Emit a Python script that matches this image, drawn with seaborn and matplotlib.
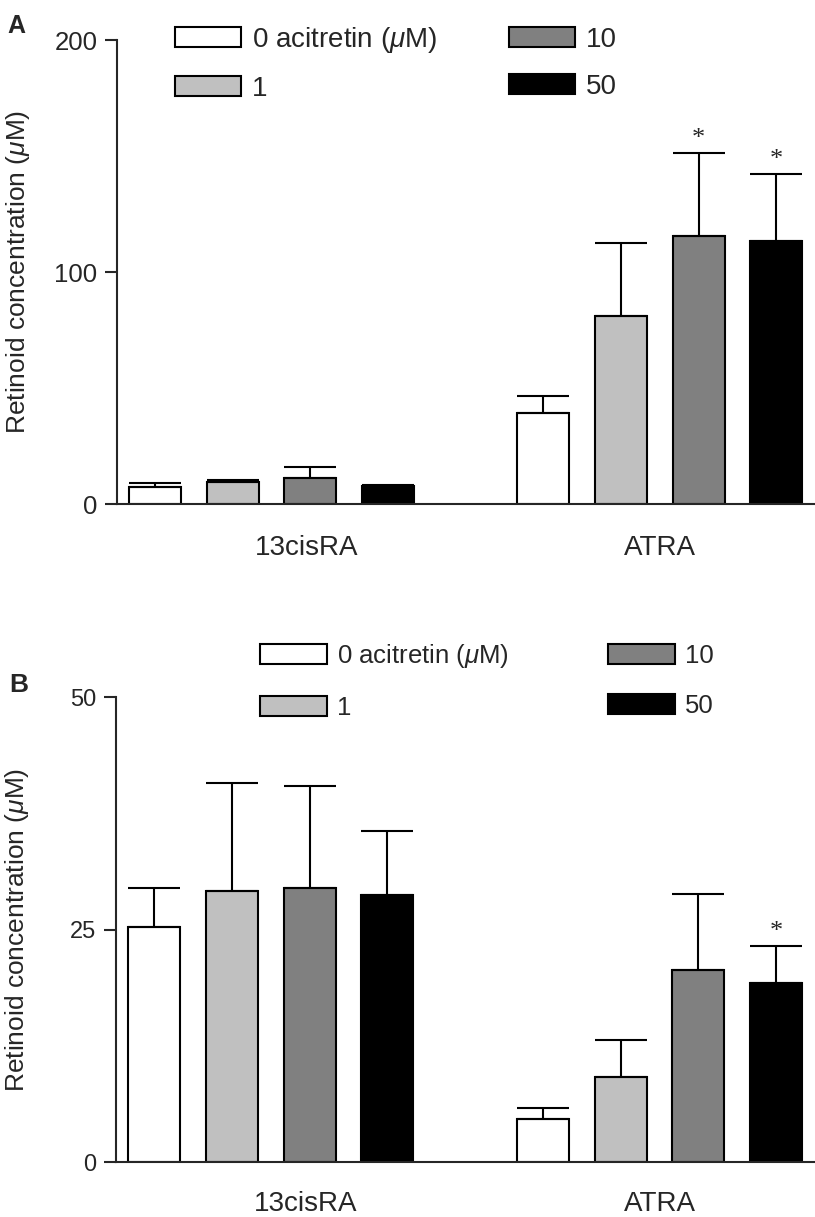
import numpy as np
import pandas as pd
import matplotlib
matplotlib.use('Agg')
import matplotlib.pyplot as plt
import seaborn as sns

# --- data ---
retinoids = ['13cisRA', 'ATRA']
doses = ['0', '1', '10', '50']
dose_labels = ['0 acitretin ($\\mu$M)', '1', '10', '50']
bar_colors = ['#ffffff', '#c0c0c0', '#808080', '#000000']

# panel A: mean and upper error (SD) per dose, order 13cisRA, ATRA
a_mean = {'0': [7.5, 39.2], '1': [9.5, 81.2], '10': [11.3, 115.6], '50': [7.6, 113.5]}
a_err = {'0': [1.4, 7.2], '1': [0.7, 31.2], '10': [4.5, 35.8], '50': [0.6, 28.9]}
a_star = {'10': [False, True], '50': [False, True]}

# panel B
b_mean = {'0': [25.3, 4.7], '1': [29.2, 9.2], '10': [29.5, 20.7], '50': [28.7, 19.3]}
b_err = {'0': [4.2, 1.1], '1': [11.6, 4.0], '10': [11.0, 8.1], '50': [6.9, 4.0]}
b_star = {'50': [False, True]}

sns.set_style('ticks')
plt.rcParams['font.family'] = ['Liberation Sans', 'DejaVu Sans']
plt.rcParams['mathtext.fontset'] = 'custom'
plt.rcParams['mathtext.it'] = 'Liberation Sans:italic'
plt.rcParams['mathtext.rm'] = 'Liberation Sans'

fig = plt.figure(figsize=(8.15, 12.17), dpi=100)


def to_frame(means):
    rows = []
    for d in doses:
        for r, v in zip(retinoids, means[d]):
            rows.append({'retinoid': r, 'dose': d, 'value': v})
    return pd.DataFrame(rows)


def draw_panel(ax, means, errs, stars, ymax, yticks, sizes):
    df = to_frame(means)
    sns.barplot(data=df, x='retinoid', y='value', hue='dose', order=retinoids,
                hue_order=doses, palette=bar_colors, errorbar=None, gap=0.33,
                edgecolor='black', linewidth=1.5, saturation=1, ax=ax)
    # upper error bars + stars on top of each bar
    for d, cont in zip(doses, ax.containers):
        for j, bar in enumerate(cont):
            x = bar.get_x() + bar.get_width() / 2
            top = bar.get_height()
            e = errs[d][j]
            ax.errorbar(x, top, yerr=[[0], [e]], fmt='none', ecolor='black',
                        elinewidth=1.5, capsize=19, capthick=1.5, zorder=1)
            if d in stars and stars[d][j]:
                ax.annotate('*', xy=(x, top + e), xytext=(0, 2),
                            textcoords='offset points', ha='center', va='bottom',
                            fontsize=19, family='Liberation Serif')
    ax.set_xlim(-0.398, 1.40)
    ax.set_ylim(0, ymax)
    ax.set_yticks(yticks)
    ax.set_yticklabels([str(t) for t in yticks], fontsize=sizes['tick'])
    # the first category label sits a little right of its bar group
    ax.set_xticks([0.09, 1.0])
    ax.set_xticklabels(retinoids, fontsize=sizes['cat'])
    ax.tick_params(axis='x', length=0, pad=sizes['xpad'])
    ax.tick_params(axis='y', length=9, width=1.5, pad=5)
    ax.set_xlabel('')
    ax.set_ylabel('Retinoid concentration ($\\mu$M)', fontsize=19)
    ax.yaxis.set_label_coords(-0.122, 0.5)
    sns.despine(ax=ax)
    for s in ['left', 'bottom']:
        ax.spines[s].set_linewidth(1.5)
    handles = ax.get_legend().legend_handles
    ax.get_legend().remove()
    return handles


# panel A
axA = fig.add_axes([117 / 815, 1 - 504 / 1217, 698 / 815, 464 / 1217])
hA = draw_panel(axA, a_mean, a_err, a_star, 200, [0, 100, 200],
                {'tick': 18.5, 'cat': 20, 'xpad': 22})
fig.legend(hA, dose_labels, ncol=2, loc='upper left', frameon=False,
           bbox_to_anchor=(175 / 815, 1 - 25 / 1217), borderpad=0, borderaxespad=0,
           handlelength=2.37, handleheight=0.75, handletextpad=0.4, labelspacing=0.75,
           columnspacing=2.6, prop={'size': 20})
fig.text(7 / 815, 1 - 33 / 1217, 'A', fontsize=18, fontweight='bold', va='baseline')

# panel B
axB = fig.add_axes([116 / 815, 1 - 1162.3 / 1217, 699 / 815, 465 / 1217])
hB = draw_panel(axB, b_mean, b_err, b_star, 50, [0, 25, 50],
                {'tick': 17, 'cat': 20, 'xpad': 21})
fig.legend(hB, dose_labels, ncol=2, loc='upper left', frameon=False,
           bbox_to_anchor=(260 / 815, 1 - 642 / 1217), borderpad=0, borderaxespad=0,
           handlelength=2.6, handleheight=0.8, handletextpad=0.4, labelspacing=1.0,
           columnspacing=3.85, prop={'size': 18.5})
fig.text(9 / 815, 1 - 692 / 1217, 'B', fontsize=19, fontweight='bold', va='baseline')

fig.savefig('out.png', dpi=100)
